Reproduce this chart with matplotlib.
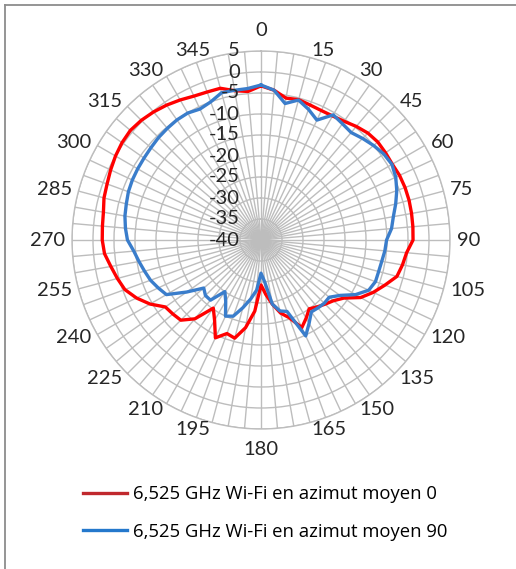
import numpy as np
import matplotlib
matplotlib.use("Agg")
import matplotlib.pyplot as plt
from matplotlib.lines import Line2D
import matplotlib.transforms as mtransforms

# ---- data ----
angles_deg = list(range(0, 360, 5))
label_angles = list(range(0, 360, 15))
angle_labels = [str(a) for a in label_angles]
r_ticks = [-40, -35, -30, -25, -20, -15, -10, -5, 0, 5]

series_names = ["6,525 GHz Wi-Fi en azimut moyen 0",
                "6,525 GHz Wi-Fi en azimut moyen 90"]

azimut_0 = [-3.3, -4.2, -5.7, -5.4, -5.8, -6.0, -5.9, -5.5, -4.7, -4.0,
            -3.7, -3.8, -3.9, -3.6, -3.5, -3.5, -3.6, -3.7, -3.8, -5.2,
            -5.8, -6.5, -8.6, -10.5, -12.6, -15.9, -17.5, -18.4, -19.2, -20.0,
            -18.5, -17.0, -20.3, -22.0, -24.5, -27.0, -29.3, -23.0, -18.8, -15.8,
            -16.3, -14.3, -17.9, -20.2, -15.5, -13.0, -12.6, -12.2, -9.5, -7.3,
            -5.5, -4.6, -3.7, -2.6, -2.2, -2.1, -1.9, -1.3, -1.0, -0.5,
            0.0, 0.4, 0.6, 0.3, -0.2, -0.8, -1.5, -2.2, -2.5, -2.6,
            -3.9, -4.5]

azimut_90 = [-3.1, -4.2, -7.0, -5.5, -6.9, -8.5, -5.6, -6.2, -6.6, -5.8,
             -5.0, -4.3, -4.0, -4.6, -5.6, -6.8, -8.0, -8.8, -10.1, -10.4,
             -10.8, -11.0, -11.0, -11.7, -14.0, -17.0, -18.8, -18.7, -18.9, -19.1,
             -17.1, -14.8, -21.9, -22.5, -24.5, -30.0, -32.1, -28.0, -25.7, -23.3,
             -20.7, -20.0, -23.2, -25.0, -21.3, -21.3, -22.2, -18.4, -14.0, -13.0,
             -12.0, -11.3, -10.5, -9.6, -8.2, -7.6, -7.1, -6.8, -6.4, -6.2,
             -6.1, -6.0, -5.8, -5.5, -5.3, -5.1, -5.1, -5.6, -5.0, -3.7,
             -3.8, -3.8]

line_colors = ["#FF0000", "#3A7DCB"]
legend_colors = ["#C0282D", "#2478CC"]

# ---- figure ----
W, H = 516, 569
fig = plt.figure(figsize=(W / 100, H / 100), dpi=100)

cx, cy, R = 261, 240, 189
ax = fig.add_axes([(cx - R) / W, 1 - (cy + R) / H, 2 * R / W, 2 * R / H],
                  projection="polar")
ax.set_theta_zero_location("N")
ax.set_theta_direction(-1)
ax.set_ylim(-40, 5)

theta = np.deg2rad(angles_deg + [angles_deg[0]])
for vals, col, name in zip([azimut_0, azimut_90], line_colors, series_names):
    ax.plot(theta, vals + [vals[0]], color=col, lw=2.4, label=name,
            solid_joinstyle="round", zorder=5)

grid_col = "#BDBDBD"
ax.set_xticks(np.deg2rad(angles_deg))
ax.set_xticklabels([])
ax.set_yticks(r_ticks)
ax.set_yticklabels([])
ax.grid(True, color=grid_col, lw=1.0)
ax.spines["polar"].set_color(grid_col)
ax.spines["polar"].set_linewidth(1.0)
ax.tick_params(length=0)
ax.set_facecolor("white")

lab_font = "Lato"
for a, lab in zip(label_angles, angle_labels):
    s = np.sin(np.deg2rad(a))
    if abs(s) < 1e-6:
        ax.text(np.deg2rad(a), 9.8, lab, ha="center", va="center",
                fontsize=14.5, family=lab_font, color="#262626", clip_on=False)
    else:
        ax.text(np.deg2rad(a), 6.6, lab, ha="left" if s > 0 else "right",
                va="center", fontsize=14.5, family=lab_font, color="#262626",
                clip_on=False)

off = mtransforms.offset_copy(ax.transData, fig=fig, x=-21, y=0, units="dots")
for v in r_ticks:
    ax.text(0, v, str(v), transform=off, ha="right", va="center",
            fontsize=14.5, family=lab_font, color="#262626", clip_on=False,
            zorder=6)

# legend
handles = [Line2D([], [], color=c, lw=2.4) for c in legend_colors]
fig.legend(handles, series_names, loc="center left",
           bbox_to_anchor=(83 / W, 1 - 513 / H), frameon=False,
           borderpad=0, borderaxespad=0,
           handlelength=2.4, handletextpad=0.3, labelspacing=1.05,
           prop={"family": "Open Sans", "size": 13.3})

# frame (clipped at right/bottom)
fig.add_artist(Line2D([5 / W, 1.0], [1 - 5 / H, 1 - 5 / H], color="#8C8C8C",
                      lw=1.3, transform=fig.transFigure))
fig.add_artist(Line2D([5 / W, 5 / W], [0.0, 1 - 5 / H], color="#8C8C8C",
                      lw=1.3, transform=fig.transFigure))

fig.savefig("out.png", dpi=100, facecolor="white")
